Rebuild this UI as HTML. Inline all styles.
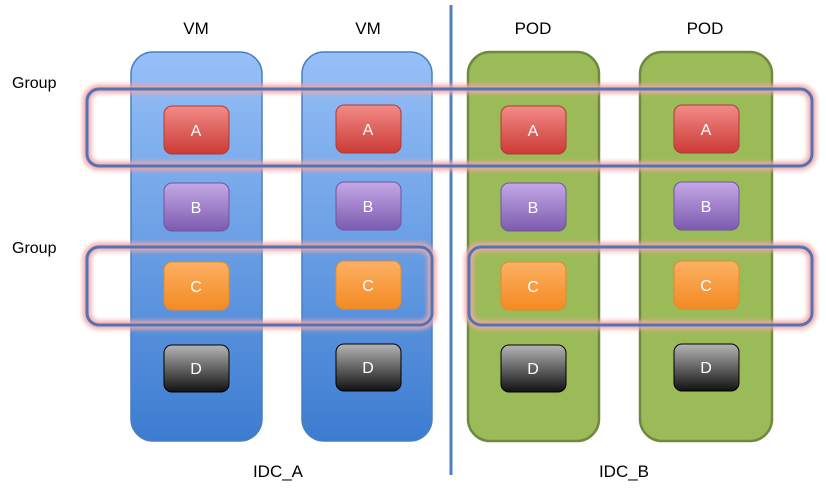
<!DOCTYPE html>
<html><head><meta charset="utf-8"><style>
html,body{margin:0;padding:0;background:#fff;width:826px;height:495px;overflow:hidden}
text{font-family:"Liberation Sans","DejaVu Sans",sans-serif}
</style></head><body>
<svg width="826" height="495" viewBox="0 0 826 495" xmlns="http://www.w3.org/2000/svg">
<defs>
<linearGradient id="bl" x1="0" y1="0" x2="0" y2="1"><stop offset="0" stop-color="#97c0f8"/><stop offset="1" stop-color="#3c7cd0"/></linearGradient>
<linearGradient id="ra" x1="0" y1="0" x2="0" y2="1"><stop offset="0" stop-color="#f28b87"/><stop offset="1" stop-color="#cc3a36"/></linearGradient>
<linearGradient id="pb" x1="0" y1="0" x2="0" y2="1"><stop offset="0" stop-color="#c5a8e6"/><stop offset="1" stop-color="#7c5bb0"/></linearGradient>
<linearGradient id="oc" x1="0" y1="0" x2="0" y2="1"><stop offset="0" stop-color="#fcb064"/><stop offset="1" stop-color="#f48a22"/></linearGradient>
<linearGradient id="gd" x1="0" y1="0" x2="0" y2="1"><stop offset="0" stop-color="#b5b5b5"/><stop offset="1" stop-color="#111"/></linearGradient>
<filter id="glow" x="-10%" y="-30%" width="120%" height="160%"><feGaussianBlur stdDeviation="2"/></filter>
</defs>
<g font-size="17" fill="#000" text-anchor="middle">
<text x="196" y="34">VM</text><text x="368" y="34">VM</text>
<text x="533" y="34">POD</text><text x="705" y="34">POD</text>
<text x="278" y="477">IDC_A</text><text x="624" y="477">IDC_B</text>
</g>
<g font-size="16" fill="#000"><text x="12" y="88">Group</text><text x="12" y="253">Group</text></g>
<line x1="451" y1="5" x2="451" y2="475" stroke="#4f7fc0" stroke-width="3"/>
<rect x="131" y="52" width="131" height="389" rx="22" fill="url(#bl)" stroke="#4a7ebf" stroke-width="1.5"/>
<rect x="302" y="52" width="130" height="389" rx="22" fill="url(#bl)" stroke="#4a7ebf" stroke-width="1.5"/>
<rect x="468" y="52" width="131" height="389" rx="22" fill="#9bbb59" stroke="#71893f" stroke-width="2.5"/>
<rect x="640" y="52" width="132" height="389" rx="22" fill="#9bbb59" stroke="#71893f" stroke-width="2.5"/>
<g font-size="16" fill="#fff" text-anchor="middle">
<g id="c1">
<rect x="164" y="106" width="65" height="48" rx="8" fill="url(#ra)" stroke="#b03a36"/>
<rect x="164" y="183" width="65" height="48" rx="8" fill="url(#pb)" stroke="#6e55a0"/>
<rect x="164" y="262" width="65" height="48" rx="8" fill="url(#oc)" stroke="#e08a30"/>
<rect x="164" y="345" width="65" height="47" rx="8" fill="url(#gd)" stroke="#000"/>
</g>
<use href="#c1" x="172" y="-1"/><use href="#c1" x="337" y="0"/><use href="#c1" x="510" y="-1"/>
<text x="196" y="136">A</text><text x="368" y="135">A</text><text x="533" y="136">A</text><text x="706" y="135">A</text>
<text x="196" y="213">B</text><text x="368" y="212">B</text><text x="533" y="213">B</text><text x="706" y="212">B</text>
<text x="196" y="292">C</text><text x="368" y="291">C</text><text x="533" y="292">C</text><text x="706" y="291">C</text>
<text x="196" y="374">D</text><text x="368" y="373">D</text><text x="533" y="374">D</text><text x="706" y="373">D</text>
</g>
<g fill="none">
<g stroke="#f4a6a2" stroke-width="9" filter="url(#glow)" opacity="0.9">
<rect x="87" y="89" width="725" height="77" rx="12"/>
<rect x="87" y="247" width="345" height="78" rx="12"/>
<rect x="469" y="247" width="343" height="78" rx="12"/>
</g>
<g stroke="#4f74b8" stroke-width="3">
<rect x="87" y="89" width="725" height="77" rx="12"/>
<rect x="87" y="247" width="345" height="78" rx="12"/>
<rect x="469" y="247" width="343" height="78" rx="12"/>
</g>
</g>
</svg>
</body></html>
